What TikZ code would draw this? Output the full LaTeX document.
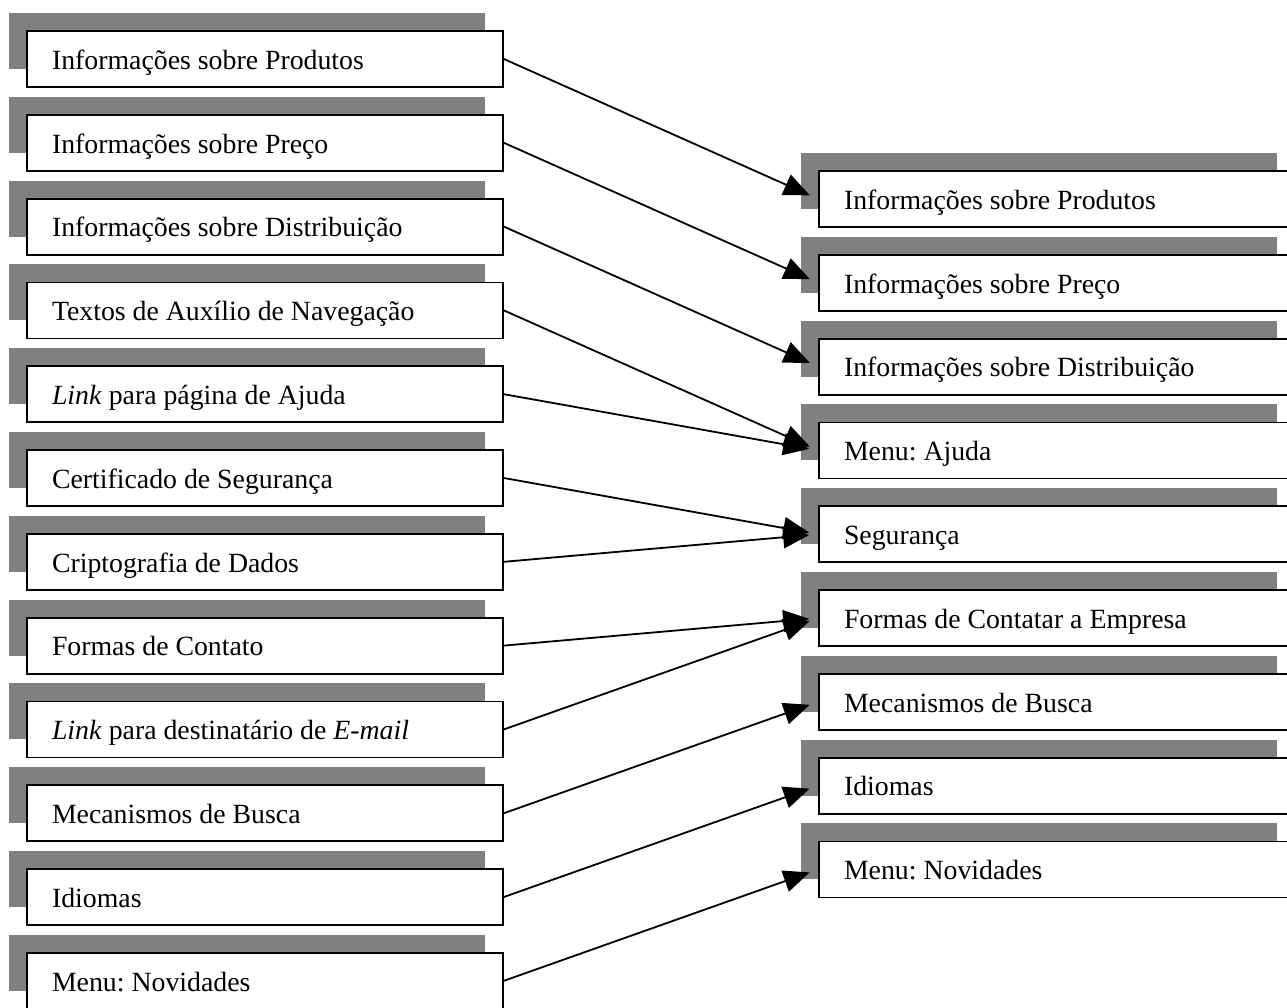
\documentclass[tikz,border=0pt]{standalone}
\usepackage{fontspec}
\setmainfont{Liberation Serif}
\usetikzlibrary{arrows.meta,shadows}
\definecolor{shadowgray}{RGB}{128,128,128}
\frenchspacing
\tikzset{
  box/.style={draw=black, line width=1.8pt, fill=white, rectangle,
    minimum width=476pt, minimum height=56pt, text width=426pt,
    inner xsep=25pt, inner ysep=2pt, align=flush left,
    text height=20.6pt, text depth=0pt,
    font=\fontsize{27.8pt}{30pt}\selectfont\frenchspacing,
    general shadow={shadow xshift=-18pt, shadow yshift=18pt, fill=shadowgray, draw=none}},
  conn/.style={line width=1.8pt, -{Triangle[length=26pt,width=22pt]}, shorten >=9pt}
}
\begin{document}
\begin{tikzpicture}[x=1pt,y=-1pt]
\useasboundingbox (0,0) rectangle (1287,1007);
\clip (0,0) rectangle (1287,1007);
% left column
\node[box] (l1)  at (265, 59.0)  {Informações sobre Produtos};
\node[box] (l2)  at (265, 142.8) {Informações sobre Preço};
\node[box] (l3)  at (265, 226.6) {Informações sobre Distribuição};
\node[box] (l4)  at (265, 310.4) {Textos de Auxílio de Navegação};
\node[box] (l5)  at (265, 394.2) {\textit{Link} para página de Ajuda};
\node[box] (l6)  at (265, 478.0) {Certificado de Segurança};
\node[box] (l7)  at (265, 561.8) {Criptografia de Dados};
\node[box] (l8)  at (265, 645.6) {Formas de Contato};
\node[box] (l9)  at (265, 729.4) {\textit{Link} para destinatário de \textit{E-mail}};
\node[box] (l10) at (265, 813.2) {Mecanismos de Busca};
\node[box] (l11) at (265, 897.0) {Idiomas};
\node[box] (l12) at (265, 980.8) {Menu: Novidades};
% right column
\node[box] (r1) at (1057, 199.0) {Informações sobre Produtos};
\node[box] (r2) at (1057, 282.8) {Informações sobre Preço};
\node[box] (r3) at (1057, 366.6) {Informações sobre Distribuição};
\node[box] (r4) at (1057, 450.4) {Menu: Ajuda};
\node[box] (r5) at (1057, 534.2) {Segurança};
\node[box] (r6) at (1057, 618.0) {Formas de Contatar a Empresa};
\node[box] (r7) at (1057, 701.8) {Mecanismos de Busca};
\node[box] (r8) at (1057, 785.6) {Idiomas};
\node[box] (r9) at (1057, 869.4) {Menu: Novidades};
% connectors
\draw[conn] (l1.east) -- (r1.west);
\draw[conn] (l2.east) -- (r2.west);
\draw[conn] (l3.east) -- (r3.west);
\draw[conn] (l4.east) -- (r4.west);
\draw[conn] (l5.east) -- (r4.west);
\draw[conn] (l6.east) -- (r5.west);
\draw[conn] (l7.east) -- (r5.west);
\draw[conn] (l8.east) -- (r6.west);
\draw[conn] (l9.east) -- (r6.west);
\draw[conn] (l10.east) -- (r7.west);
\draw[conn] (l11.east) -- (r8.west);
\draw[conn] (l12.east) -- (r9.west);
\end{tikzpicture}
\end{document}
